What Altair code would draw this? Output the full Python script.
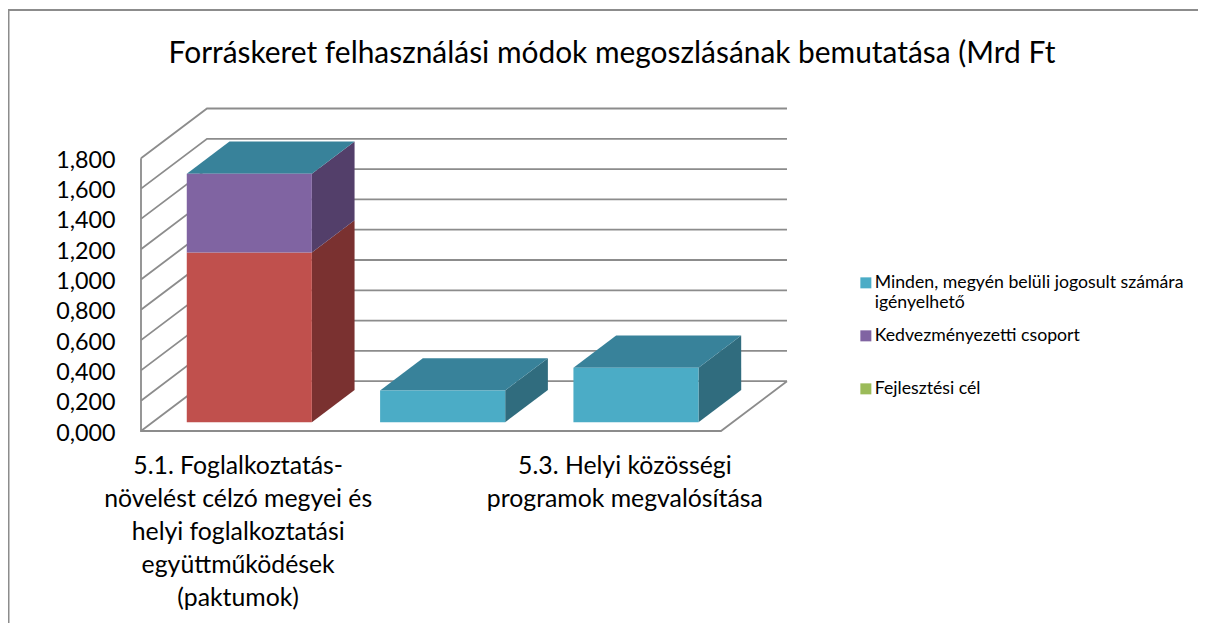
import json
import altair as alt
import pandas as pd

# ---- chart values ----
title_text = "Forráskeret felhasználási módok megoszlásának bemutatása (Mrd Ft"
category_pos = [0, 1, 2]
label_pos = [0.5, 2.5]
label_51 = ["5.1. Foglalkoztatás-", "növelést célzó megyei és", "helyi foglalkoztatási",
            "együttműködések", "(paktumok)"]
label_53 = ["5.3. Helyi közösségi", "programok megvalósítása"]
ticks = [0.0, 0.2, 0.4, 0.6, 0.8, 1.0, 1.2, 1.4, 1.6, 1.8]

name_red = "Egyéb"
name_green = "Fejlesztési cél"
name_purple = "Kedvezményezetti csoport"
name_teal = "Minden, megyén belüli jogosult számára igényelhető"
values_red = [1.12, 0.0, 0.0]
values_green = [0.0, 0.0, 0.0]
values_purple = [0.52, 0.0, 0.0]
values_teal = [0.0, 0.21, 0.36]

legend_order = [name_teal, name_purple, name_green]

front = {name_red: "#C0504D", name_green: "#9BBB59", name_purple: "#8064A2", name_teal: "#4BACC6"}
side = {name_red: "#7A3130", name_green: "#647A39", name_purple: "#533F6A", name_teal: "#306C7E"}
top_color = "#38829A"
grid_color = "#8C8C8C"
FONT = "Lato"

# ---- geometry of the 3-D box, in scale units ----
W, H = 1190, 615
PX_X, PX_Y = 193.33, 151.5
ORIGIN_X, ORIGIN_Y = 133, 423
DEPTH_X, DEPTH_Y = 66 / PX_X, 49.8 / PX_Y
BAR = 0.647
GAP = (1 - BAR) / 2

xs = alt.Scale(domain=[-ORIGIN_X / PX_X, (W - ORIGIN_X) / PX_X], nice=False, zero=False)
ys = alt.Scale(domain=[(ORIGIN_Y - H) / PX_Y, ORIGIN_Y / PX_Y], nice=False, zero=False)

x_axis = alt.Axis(
    values=label_pos, title=None, domain=False, ticks=False, grid=False,
    labelExpr=f"datum.value < 1 ? {json.dumps(label_51, ensure_ascii=False)} : {json.dumps(label_53, ensure_ascii=False)}",
    labelFont=FONT, labelFontSize=24.8, labelColor="#000000", labelLineHeight=33, labelLimit=500,
    labelOverlap=False, labelBound=False, labelFlush=False,
    labelPadding=0, offset=-170)
y_axis = alt.Axis(
    values=ticks, title=None, domain=False, ticks=False, grid=False,
    labelExpr="replace(format(datum.value, '.3f'), '.', ',')",
    labelFont=FONT, labelFontSize=23.3, labelColor="#000000",
    labelOverlap=False, labelBound=False, labelFlush=False,
    labelPadding=0, labelOffset=2, offset=-107)
X = alt.X("x:Q", scale=xs, axis=x_axis)
Y = alt.Y("y:Q", scale=ys, axis=y_axis)

# walls
rows = []
n = 0
for t in ticks:
    rows += [dict(id=n, x=0, y=t), dict(id=n, x=DEPTH_X, y=t + DEPTH_Y),
             dict(id=n, x=DEPTH_X + 3, y=t + DEPTH_Y)]
    n += 1
rows += [dict(id=n, x=0, y=ticks[-1]), dict(id=n, x=0, y=0), dict(id=n, x=3, y=0),
         dict(id=n, x=3 + DEPTH_X, y=DEPTH_Y)]
walls_df = pd.DataFrame(rows)
walls_df["o"] = walls_df.index
walls = alt.Chart(walls_df).mark_line(color=grid_color, strokeWidth=1.8).encode(
    x=X, y=Y, detail="id:N", order="o:Q")

# bars
front_rows, side_rows, top_rows = [], [], []
k = 0
for i, cat in enumerate(category_pos):
    base = 0.0
    for name, vals in [(name_red, values_red), (name_green, values_green),
                       (name_purple, values_purple), (name_teal, values_teal)]:
        v = vals[i]
        x0 = cat + GAP + GAP * DEPTH_X
        x1 = x0 + BAR
        y0 = base + GAP * DEPTH_Y
        y1 = y0 + v
        dx, dy = BAR * DEPTH_X, BAR * DEPTH_Y
        front_rows.append(dict(series=name, x=x0, x2=x1, y=y0, y2=y1))
        for a, b in [(0, 0), (dx, dy)]:
            side_rows.append(dict(id=k, series=name, x=x1 + a, y=y0 + b, y2=y1 + b))
        if name == name_teal:
            for a, b in [(0, 0), (dx, dy)]:
                top_rows.append(dict(id=k, x=x0 + a, x2=x1 + a, y=y1 + b))
        base += v
        k += 1

front_df = pd.DataFrame(front_rows)
side_df = pd.DataFrame(side_rows)

layers = [walls]
for name in [name_red, name_green, name_purple, name_teal]:
    layers.append(alt.Chart(side_df[side_df.series == name]).mark_area(color=side[name], opacity=1).encode(
        x=X, y=Y, y2="y2:Q", detail="id:N"))
layers.append(alt.Chart(pd.DataFrame(top_rows)).mark_area(orient="horizontal", color=top_color, opacity=1).encode(
    x=X, x2="x2:Q", y=Y, detail="id:N"))
layers.append(alt.Chart(front_df).mark_rect().encode(
    x=X, x2="x2:Q", y=Y, y2="y2:Q",
    color=alt.Color("series:N",
                    scale=alt.Scale(domain=list(front.keys()), range=list(front.values())),
                    legend=alt.Legend(
                        values=legend_order, title=None, orient="none", legendX=849, legendY=266,
                        symbolType="square", symbolSize=121, symbolStrokeWidth=0,
                        labelFont=FONT, labelFontSize=17.7, labelColor="#000000", labelLimit=400,
                        rowPadding=14, symbolOpacity=1, labelOffset=0,
                        labelExpr=("datum.value == '" + name_teal + "' ? "
                                   "['Minden, megyén belüli jogosult számára', 'igényelhető'] : "
                                   "[datum.value, ' ']")))))

frame_top = alt.Chart(pd.DataFrame({"a": [0]})).mark_rule(color=grid_color, strokeWidth=2).encode(
    y=alt.value(2), x=alt.value(0), x2=alt.value(W))
frame_left = alt.Chart(pd.DataFrame({"a": [0]})).mark_rule(color=grid_color, strokeWidth=2).encode(
    x=alt.value(0.5), y=alt.value(2), y2=alt.value(H))

chart = alt.layer(frame_top, frame_left, *layers).properties(
    width=W, height=H, padding=0, autosize=alt.AutoSizeParams(type="none"),
    title=alt.TitleParams(title_text, font=FONT, fontSize=29.9, fontWeight="normal", color="#000000",
                          anchor="middle", dx=9, dy=65, frame="group")
).configure_view(stroke=None)

chart.save("out.html", embed_options={"renderer": "svg", "actions": False})
